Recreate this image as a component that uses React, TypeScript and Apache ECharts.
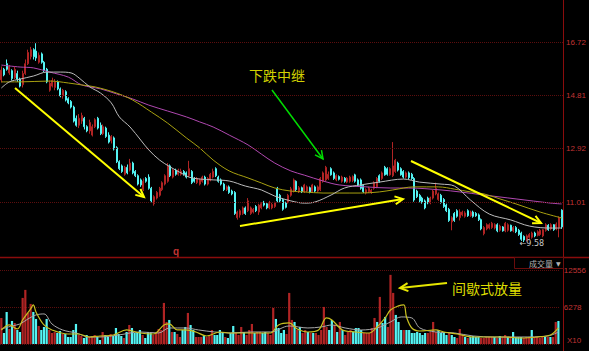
import React, { useEffect, useRef } from 'react';
import * as echarts from 'echarts';

// [open, close, low, high]
const candles: number[][] = [
  [15.37,15.72,15.28,15.85],[15.75,15.55,15.50,15.80],[15.95,15.75,15.70,16.10],[15.62,15.85,15.55,15.90],[15.70,15.42,15.35,15.75],
  [15.45,15.75,15.40,15.85],[15.60,15.40,15.30,15.70],[15.40,15.15,15.10,15.45],[15.20,15.60,15.10,15.70],[15.60,15.95,15.55,16.10],
  [15.95,16.35,15.90,16.45],[16.20,16.45,16.10,16.55],[16.45,16.20,16.10,16.50],[16.40,16.15,16.05,16.68],[16.00,16.25,15.95,16.35],
  [16.30,16.00,15.95,16.35],[16.00,15.70,15.65,16.05],[15.75,15.30,15.25,15.80],[15.00,15.25,14.95,15.35],[15.15,15.35,15.10,15.45],
  [15.10,15.30,15.00,15.40],[15.30,15.05,15.00,15.35],[15.05,14.80,14.75,15.10],[14.80,15.00,14.70,15.05],[14.95,14.65,14.60,15.00],
  [14.70,14.55,14.50,14.75],[14.60,14.40,14.35,14.65],[14.40,13.90,13.85,14.45],[14.00,13.75,13.70,14.10],[13.75,14.00,13.65,14.15],
  [13.90,14.10,13.80,14.20],[14.00,13.70,13.60,14.05],[13.70,13.55,13.50,13.75],[13.55,13.85,13.45,13.95],[13.40,13.70,13.35,13.78],
  [13.70,13.95,13.65,14.00],[14.00,13.65,13.60,14.05],[13.75,13.45,13.40,13.85],[13.45,13.70,13.40,13.78],[13.65,13.35,13.30,13.70],
  [13.40,13.15,13.10,13.50],[13.20,13.35,13.10,13.40],[13.30,12.90,12.85,13.35],[12.95,12.45,12.40,13.00],[12.45,12.20,12.15,12.50],
  [12.30,12.10,12.05,12.35],[12.00,12.25,11.95,12.30],[12.25,12.05,12.00,12.35],[12.15,12.40,12.10,12.55],[12.40,12.05,12.00,12.45],
  [12.10,11.95,11.90,12.15],[11.95,11.65,11.60,12.00],[11.80,11.62,11.55,11.85],[11.45,11.75,11.40,11.85],[11.85,11.75,11.70,11.90],
  [11.90,11.50,11.45,12.00],[11.50,11.05,11.00,11.55],[10.95,11.20,10.88,11.25],[11.15,11.35,11.10,11.40],[11.25,11.50,11.20,11.55],
  [11.45,11.70,11.40,11.75],[11.65,11.95,11.60,12.00],[11.75,12.30,11.70,12.40],[12.30,11.95,11.90,12.35],[11.90,12.15,11.85,12.20],
  [12.15,12.00,11.95,12.20],[12.00,12.15,11.95,12.20],[12.00,12.10,11.95,12.20],[12.10,12.00,11.95,12.15],[12.05,11.90,11.85,12.10],
  [11.95,12.20,11.90,12.48],[12.10,11.70,11.65,12.15],[11.85,11.75,11.70,11.90],[11.70,11.85,11.65,11.90],[11.65,11.80,11.60,11.85],
  [11.75,11.90,11.70,11.95],[11.90,11.65,11.60,11.95],[11.65,11.85,11.60,11.90],[11.80,12.00,11.75,12.05],[11.90,12.10,11.85,12.20],
  [12.20,11.95,11.90,12.25],[11.90,11.75,11.70,11.95],[11.80,11.65,11.60,11.85],[11.65,11.45,11.40,11.70],[11.45,11.55,11.40,11.60],
  [11.55,11.35,11.30,11.60],[11.40,11.30,11.25,11.45],[11.35,10.60,10.55,11.40],[10.45,10.65,10.38,10.70],[10.55,10.70,10.45,10.75],
  [10.60,10.80,10.55,10.85],[10.80,10.60,10.55,10.85],[10.70,11.05,10.65,11.15],[10.60,10.80,10.55,10.85],[10.65,10.75,10.60,10.80],
  [10.85,10.70,10.65,10.90],[10.65,10.90,10.55,10.95],[10.80,10.95,10.75,11.00],[11.00,10.90,10.85,11.05],[10.95,10.80,10.75,11.00],
  [10.80,10.95,10.75,11.05],[10.80,10.92,10.75,10.98],[10.85,10.98,10.80,11.02],[11.50,11.05,11.00,11.55],[11.25,11.05,11.00,11.30],
  [11.10,10.75,10.70,11.15],[10.98,10.82,10.78,11.02],[11.00,11.25,10.95,11.30],[11.25,11.48,11.20,11.55],[11.40,11.80,11.35,11.85],
  [11.75,11.45,11.40,11.78],[11.38,11.52,11.33,11.58],[11.52,11.38,11.33,11.56],[11.38,11.62,11.33,11.66],[11.40,11.55,11.36,11.60],
  [11.52,11.36,11.32,11.56],[11.38,11.62,11.33,11.66],[11.55,11.40,11.36,11.60],[11.40,11.55,11.35,11.60],[11.45,11.85,11.40,11.90],
  [11.75,12.05,11.70,12.10],[11.80,12.25,11.75,12.30],[11.85,12.00,11.80,12.10],[12.20,11.98,11.95,12.25],[12.05,11.85,11.80,12.10],
  [11.80,11.95,11.75,12.00],[11.92,11.82,11.78,11.96],[11.75,11.90,11.70,11.95],[11.86,11.75,11.70,11.90],[11.72,11.86,11.68,11.90],
  [11.75,11.90,11.70,11.95],[11.78,11.92,11.72,11.96],[11.98,11.75,11.70,12.02],[11.80,11.62,11.58,11.85],[11.80,11.50,11.45,11.85],
  [11.60,11.38,11.33,11.65],[11.33,11.45,11.28,11.50],[11.38,11.50,11.33,11.55],[11.35,11.43,11.30,11.48],[11.50,11.70,11.45,11.75],
  [11.55,11.85,11.50,11.90],[11.95,11.75,11.70,12.00],[11.85,12.05,11.80,12.10],[12.25,11.98,11.95,12.30],[12.20,12.00,11.95,12.25],
  [11.98,12.20,11.95,12.25],[11.95,12.30,11.90,13.15],[12.10,12.50,12.05,12.55],[12.40,12.15,12.10,12.45],[12.20,11.98,11.95,12.25],
  [12.10,11.90,11.85,12.15],[11.90,12.05,11.85,12.10],[12.05,11.88,11.82,12.10],[12.00,11.85,11.80,12.05],[11.85,11.08,11.02,11.90],
  [11.40,11.20,11.15,11.45],[11.25,11.05,11.00,11.30],[11.15,11.00,10.95,11.20],[11.05,10.80,10.75,11.10],[11.15,10.98,10.93,11.20],
  [10.98,11.15,10.93,11.20],[11.15,11.40,11.10,11.45],[11.30,11.50,11.25,11.70],[11.10,11.30,11.05,11.35],[11.25,11.00,10.95,11.30],
  [11.10,10.85,10.80,11.15],[10.90,10.70,10.65,10.95],[10.75,10.35,10.30,10.80],[10.30,10.45,10.00,10.50],[10.60,10.35,10.30,10.65],
  [10.70,10.50,10.45,10.75],[10.45,10.65,10.35,10.75],[10.55,10.65,10.50,10.70],[10.50,10.62,10.45,10.68],[10.70,10.52,10.48,10.75],
  [10.52,10.65,10.48,10.70],[10.65,10.50,10.45,10.70],[10.60,10.52,10.48,10.65],[10.55,10.38,10.33,10.60],[10.38,10.05,10.00,10.42],
  [9.88,10.10,9.82,10.15],[10.05,10.20,10.00,10.25],[10.08,10.20,10.03,10.25],[10.10,10.25,10.05,10.30],[10.08,10.20,10.03,10.25],
  [10.20,9.98,9.93,10.25],[10.00,10.15,9.95,10.20],[10.12,9.98,9.95,10.15],[9.98,10.25,9.93,10.30],[10.00,10.20,9.95,10.25],
  [10.18,9.98,9.95,10.20],[9.98,10.10,9.93,10.15],[10.10,9.95,9.90,10.15],[10.00,9.85,9.80,10.05],[9.90,9.68,9.62,9.95],
  [9.78,9.65,9.58,9.82],[9.66,9.80,9.60,9.85],[9.75,9.85,9.70,9.90],[9.75,9.90,9.70,9.95],[9.90,9.80,9.75,9.95],
  [9.82,9.95,9.78,10.00],[9.85,10.00,9.80,10.05],[9.80,10.02,9.75,10.05],[10.00,10.20,9.95,10.25],[10.18,10.02,9.98,10.22],
  [10.05,10.20,10.00,10.25],[10.20,10.02,9.98,10.22],[10.05,10.22,10.00,10.28],[10.10,10.45,9.75,10.50],[10.72,10.12,10.05,10.75],
];

const volumes: number[] = [
  4420,1870,5440,2550,3910,3570,2380,2040,7820,9180,5270,6800,5440,4250,3060,2380,2890,4250,2380,1870,
  2040,1870,2210,1700,1700,1190,1190,2380,3400,1530,
  1360,1020,1530,1190,1360,1530,1190,680,2040,1530,
  1190,1700,1360,2720,1700,1360,1020,2040,3230,2720,
  1870,2040,2380,1530,1020,2040,1870,1530,1870,2550,
  2380,6970,3740,4080,2040,2040,1700,1190,2380,2890,
  5270,3230,2380,1190,1190,1190,1360,1190,1530,2380,
  1530,1530,2380,2040,1190,1020,1870,3060,1870,1530,
  2890,2040,1530,2380,3400,1870,2040,2040,1870,2040,
  1870,1530,6120,4250,2720,1870,2380,1700,
  8670,4080,3740,2380,2890,1870,2380,2040,1870,
  1870,1870,1530,2380,6290,2890,2380,4080,3230,2040,
  3740,2380,1530,2040,2380,2040,2720,2720,
  2380,1870,1870,1870,2720,4420,3740,7990,
  3570,4590,2890,11730,8670,4930,3740,2380,2380,2380,
  2380,1870,1870,2040,1870,1530,1870,1870,2040,
  3740,2040,2380,1870,2040,1530,1870,1530,1190,
  1020,2550,1530,1190,1020,1190,1360,1190,1190,
  1020,1020,1190,1190,1190,1190,1020,1360,1190,
  1530,1190,1020,2040,1190,1190,1190,1020,1190,
  1190,2380,1190,1190,1020,1360,1190,1190,1190,1190,
  3740,3910,
];

const categories: string[] = candles.map((_, i) => String(i + 1));

// moving-average curves: [candle index, value]
const maShort: number[][] = [
  [0,15.08],[3,15.30],[7,15.40],[12,15.51],[17,15.65],[22,15.65],[26,15.62],[29,15.44],[33,15.12],[37,14.90],
  [41,14.55],[44,14.05],[48,13.69],[52,13.22],[55,12.87],[59,12.51],[63,12.26],[67,12.05],[70,11.90],[74,11.83],
  [79,11.80],[85,11.76],[91,11.58],[97,11.44],[102,11.22],[108,11.05],[113,10.97],[117,11.01],[123,11.26],[128,11.51],
  [134,11.62],[141,11.72],[150,11.83],[156,11.72],[164,11.65],[169,11.58],[175,11.08],[182,10.58],[190,10.37],[197,10.15],
  [205,10.08],[209,10.08],
];
const maMid: number[][] = [
  [0,15.30],[7,15.30],[18,15.33],[25,15.26],[30,15.19],[35,15.12],[43,14.90],[49,14.65],[56,14.22],[62,13.83],
  [69,13.30],[74,12.94],[79,12.51],[85,12.12],[92,11.87],[97,11.69],[102,11.51],[108,11.40],[113,11.37],[120,11.33],
  [126,11.33],[134,11.33],[141,11.37],[146,11.44],[154,11.55],[163,11.55],[169,11.47],[175,11.37],[180,11.30],[186,11.12],
  [192,10.94],[201,10.65],[209,10.44],
];
const maLong: number[][] = [
  [0,15.90],[7,15.83],[12,15.80],[18,15.65],[25,15.47],[30,15.19],[37,15.05],[43,14.87],[49,14.69],[55,14.47],
  [62,14.26],[69,14.05],[74,13.87],[79,13.69],[85,13.40],[92,13.05],[97,12.72],[102,12.40],[108,12.12],[113,11.97],
  [120,11.76],[126,11.62],[136,11.55],[145,11.51],[152,11.51],[164,11.44],[171,11.37],[180,11.26],[192,11.12],[205,10.97],
  [209,10.94],
];
const volMaShort: number[][] = [
  [0,2380],[3,3230],[6,2550],[8,4080],[11,5950],[12,6630],[13,5440],[16,3230],[19,2380],[25,1700],
  [29,1700],[33,1190],[37,1360],[42,1530],[47,2380],[52,1870],[57,1700],[61,3230],[63,3400],[66,2380],
  [69,2380],[73,2040],[77,1360],[82,2040],[86,1870],[92,1870],[96,1870],[101,1870],[104,3230],[108,3570],
  [111,2550],[115,2040],[119,2380],[122,4420],[124,4080],[128,2380],[133,2040],[138,1870],[141,2890],[144,4420],
  [146,5780],[149,6460],[151,6630],[152,4590],[154,2720],[157,2210],[163,2380],[166,2040],[171,1700],[177,1190],
  [182,1190],[189,1190],[195,1020],[201,1190],[206,1530],[209,2720],
];
const volMaLong: number[][] = [
  [0,2550],[4,3060],[7,3400],[10,4250],[13,4930],[16,5100],[19,3400],[23,2380],[28,1870],[33,1190],
  [37,1190],[44,1530],[52,2040],[59,1870],[63,2720],[69,2720],[74,2380],[80,2040],[86,1870],[94,2040],
  [101,2040],[108,3060],[115,2720],[120,2890],[124,3230],[129,2720],[135,2380],[141,2720],[146,3740],[150,4590],
  [154,4420],[157,2720],[163,2040],[170,1870],[177,1360],[185,1190],[195,1190],[205,1360],[209,2040],
];

const priceTicks: number[] = [11.01, 12.92, 14.81, 16.72];
const priceTickLabels: string[] = ['11.01', '12.92', '14.81', '16.72'];
const volTickLabels: Record<number, string> = { 6278: '6278', 12556: '12556' };
const lowMark = { index: 195, value: 9.58, label: '←9.58' };

const RED = '#b02424';
const RED_FILL = '#901a1a';
const CYAN = '#54f4f4';
const AXIS_RED = '#c23434';
const GRID_RED = '#5c0e0e';

function chevron(tx: number, ty: number, fx: number, fy: number, len = 8, half = 4) {
  const dx = tx - fx, dy = ty - fy;
  const L = Math.hypot(dx, dy);
  const ux = dx / L, uy = dy / L;
  const nx = -uy, ny = ux;
  return [
    [tx - len * ux + half * nx, ty - len * uy + half * ny],
    [tx, ty],
    [tx - len * ux - half * nx, ty - len * uy - half * ny],
  ];
}

function arrow(fx: number, fy: number, tx: number, ty: number, color: string, w: number) {
  return [
    { type: 'line', z: 100, shape: { x1: fx, y1: fy, x2: tx, y2: ty }, style: { stroke: color, lineWidth: w } },
    { type: 'polyline', z: 100, shape: { points: chevron(tx, ty, fx, fy) }, style: { stroke: color, lineWidth: w, fill: 'none' } },
  ];
}

export default function App() {
  const ref = useRef<HTMLDivElement>(null);
  useEffect(() => {
    if (!ref.current) return;
    const chart = echarts.init(ref.current, undefined, { renderer: 'svg' });
    const maLine = (data: number[][], color: string, xi: number, yi: number, w = 1) => ({
      type: 'line', data, xAxisIndex: xi, yAxisIndex: yi, smooth: 0.35, showSymbol: false, silent: true,
      lineStyle: { color, width: w }, z: 3,
    });
    const font = 'Liberation Sans';
    chart.setOption({
      animation: false,
      backgroundColor: '#000000',
      grid: [
        { left: 0, right: 26, top: 0, height: 257 },
        { left: 0, right: 26, top: 270, height: 74 },
      ],
      xAxis: [
        { type: 'category', data: categories, gridIndex: 0, boundaryGap: true, show: false },
        { type: 'category', data: categories, gridIndex: 1, boundaryGap: true, show: false },
      ],
      yAxis: [
        { type: 'value', gridIndex: 0, min: 9.046, max: 18.224, show: false },
        {
          type: 'value', gridIndex: 1, min: 0, max: 12556, interval: 6278, position: 'right',
          axisLine: { show: false }, axisTick: { show: false },
          splitLine: { show: true, lineStyle: { color: GRID_RED, type: 'dotted', width: 1 } },
          axisLabel: { color: AXIS_RED, fontSize: 8, fontFamily: font, margin: 4, formatter: (v: number) => volTickLabels[v] || '' },
        },
      ],
      series: [
        {
          type: 'candlestick', data: candles, xAxisIndex: 0, yAxisIndex: 0, barWidth: 1.5,
          itemStyle: { color: RED_FILL, color0: CYAN, borderColor: RED, borderColor0: CYAN, borderWidth: 1 },
          markLine: {
            silent: true, symbol: ['none', 'none'],
            lineStyle: { color: GRID_RED, type: 'dotted', width: 1 },
            label: { show: true, position: 'end', distance: 3, color: AXIS_RED, fontSize: 8, fontFamily: font,
              formatter: (p: any) => priceTickLabels[p.dataIndex] },
            data: priceTicks.map((v) => ({ yAxis: v })),
          },
          markPoint: {
            silent: true, symbol: 'circle', symbolSize: 1, itemStyle: { color: 'rgba(0,0,0,0)' },
            data: [{ coord: [categories[lowMark.index], lowMark.value],
              label: { show: true, position: 'right', distance: 0, offset: [-5, 1], formatter: lowMark.label, color: '#c8c8c8', fontSize: 8, fontFamily: 'DejaVu Sans' } }],
          },
        },
        maLine(maLong, '#b048b0', 0, 0),
        maLine(maMid, '#a8a010', 0, 0),
        maLine(maShort, '#bcbcbc', 0, 0),
        {
          type: 'bar', xAxisIndex: 1, yAxisIndex: 1, barWidth: 2.2,
          data: volumes.map((v, i) => ({ value: v, itemStyle: { color: candles[i][1] >= candles[i][0] ? RED : CYAN } })),
        },
        maLine(volMaLong, '#a8a8a8', 1, 1),
        maLine(volMaShort, '#c8c020', 1, 1, 1.2),
      ],
      graphic: [
        { type: 'line', z: 90, shape: { x1: 563.5, y1: 0, x2: 563.5, y2: 351 }, style: { stroke: '#8a0c0c', lineWidth: 1 } },
        { type: 'line', z: 90, shape: { x1: 0, y1: 257.5, x2: 589, y2: 257.5 }, style: { stroke: '#8a0c0c', lineWidth: 1.5 } },
        { type: 'rect', z: 91, shape: { x: 514.5, y: 257.5, width: 49, height: 11 }, style: { fill: '#000', stroke: '#6a0c0c', lineWidth: 1 } },
        { type: 'text', z: 92, x: 529, y: 263, style: { text: '成交量', fill: '#b4b4b4', font: '8px "Noto Sans CJK SC"', textVerticalAlign: 'middle' } },
        { type: 'text', z: 92, x: 556, y: 263, style: { text: '▼', fill: '#b4b4b4', font: '6px "DejaVu Sans"', textVerticalAlign: 'middle' } },
        { type: 'text', z: 92, x: 567, y: 340, style: { text: 'X10', fill: AXIS_RED, font: '8px "Liberation Sans"', textVerticalAlign: 'middle' } },
        { type: 'text', z: 92, x: 173, y: 251, style: { text: 'q', fill: AXIS_RED, font: 'bold 10px "Liberation Sans"', textVerticalAlign: 'middle' } },
        { type: 'text', z: 100, x: 249, y: 75, style: { text: '下跌中继', fill: '#d2d200', font: '14px "Noto Sans CJK SC"', textVerticalAlign: 'middle' } },
        { type: 'text', z: 100, x: 452, y: 288, style: { text: '间歇式放量', fill: '#dede00', font: '14px "Noto Sans CJK SC"', textVerticalAlign: 'middle' } },
        ...arrow(15, 88, 144, 197, '#ffff00', 2),
        ...arrow(240, 226, 403, 199, '#ffff00', 2),
        ...arrow(411, 161, 541, 223, '#ffff00', 2),
        ...arrow(272, 90, 323, 159, '#00dd00', 1.5),
        ...arrow(447, 283, 400, 288, '#e6e600', 2),
      ],
    });
    return () => chart.dispose();
  }, []);
  return (
    <div style={{ position: 'fixed', left: 0, top: 0, width: 589, height: 351, background: '#000' }}>
      <div ref={ref} style={{ width: 589, height: 351 }} />
    </div>
  );
}
